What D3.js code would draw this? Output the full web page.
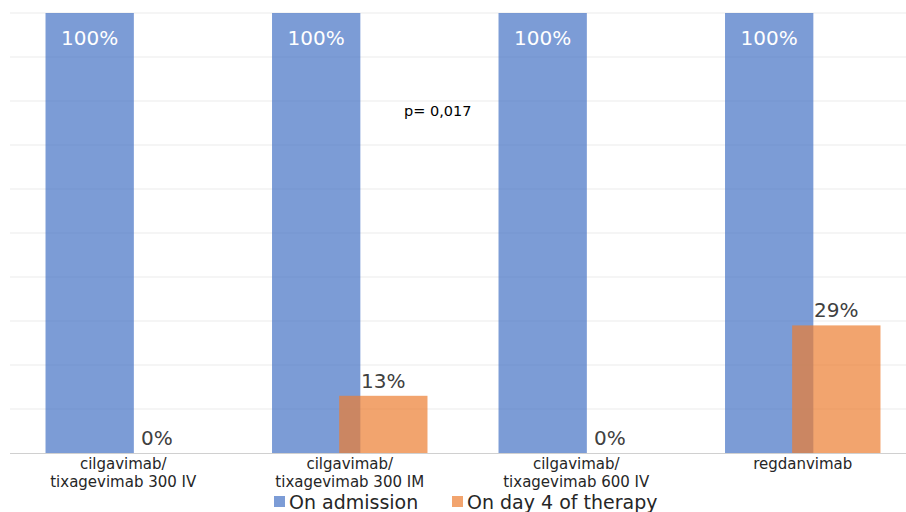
<!DOCTYPE html>
<html>
<head>
<meta charset="utf-8">
<script src="https://cdn.jsdelivr.net/npm/d3@7"></script>
<style>
  html, body { margin: 0; padding: 0; background: #fff; }
  svg { display: block; font-family: "DejaVu Sans", "Noto Sans", sans-serif; }
</style>
</head>
<body>
<svg id="chart" width="906" height="512"></svg>
<script>
// Treatment groups (two-line axis labels)
const categories = [
  ["cilgavimab/", "tixagevimab 300 IV"],
  ["cilgavimab/", "tixagevimab 300 IM"],
  ["cilgavimab/", "tixagevimab 600 IV"],
  ["regdanvimab"]
];
const seriesNames = ["On admission", "On day 4 of therapy"];
const onAdmission = [100, 100, 100, 100];
const onDay4 = [0, 13, 0, 29];
const yTicks = [0, 10, 20, 30, 40, 50, 60, 70, 80, 90, 100];
const annotation = "p= 0,017";

const svg = d3.select("#chart");
const margin = { left: 10, right: -10, top: 13, bottom: 59 };
const W = 906, H = 512;

const x = d3.scaleBand()
  .domain(d3.range(categories.length))
  .range([margin.left, W - margin.right])
  .paddingInner(0.0);

const y = d3.scaleLinear().domain([0, 100]).range([H - margin.bottom, margin.top]);

// bar geometry inside each band
const barW = x.bandwidth() * 0.39;
const overlap = barW * 0.24;
const groupW = barW * 2 - overlap;
const blueX = i => x(i) + (x.bandwidth() - groupW) / 2;
const orangeX = i => blueX(i) + barW - overlap;

const colors = ["rgba(68,114,196,0.7)", "rgba(237,125,49,0.7)"];

// horizontal gridlines
svg.append("g").selectAll("line")
  .data(yTicks.filter(d => d > 0))
  .join("line")
  .attr("x1", margin.left).attr("x2", W)
  .attr("y1", d => y(d)).attr("y2", d => y(d))
  .attr("stroke", "#ebebeb").attr("stroke-width", 1);

// bars
svg.append("g").selectAll("rect")
  .data(onAdmission)
  .join("rect")
  .attr("x", (d, i) => blueX(i))
  .attr("y", d => y(d))
  .attr("width", barW)
  .attr("height", d => y(0) - y(d))
  .attr("fill", colors[0]);

svg.append("g").selectAll("rect")
  .data(onDay4)
  .join("rect")
  .attr("x", (d, i) => orangeX(i))
  .attr("y", d => y(d))
  .attr("width", barW)
  .attr("height", d => y(0) - y(d))
  .attr("fill", colors[1]);

// baseline axis
const xAxis = d3.axisBottom(x).tickSize(0).tickFormat("");
const axisG = svg.append("g").attr("transform", `translate(0,${y(0)})`).call(xAxis);
axisG.select(".domain").attr("stroke", "#d0d0d0").attr("d", `M${margin.left},0.5H${W}`);

// category labels
const catG = svg.append("g");
categories.forEach((lines, i) => {
  const cx = x(i) + x.bandwidth() / 2;
  const t = catG.append("text")
    .attr("x", cx)
    .attr("y", y(0) + 16)
    .attr("text-anchor", "middle")
    .attr("font-size", 15)
    .attr("fill", "#262626");
  lines.forEach((ln, k) => {
    t.append("tspan").attr("x", cx).attr("dy", k === 0 ? 0 : 18).text(ln);
  });
});

// value labels
svg.append("g").selectAll("text")
  .data(onAdmission)
  .join("text")
  .attr("x", (d, i) => blueX(i) + barW / 2)
  .attr("y", d => y(d) + 32)
  .attr("text-anchor", "middle")
  .attr("font-size", 20)
  .attr("fill", "#ffffff")
  .text(d => d + "%");

svg.append("g").selectAll("text")
  .data(onDay4)
  .join("text")
  .attr("x", (d, i) => orangeX(i) + barW / 2)
  .attr("y", d => y(d) - 8)
  .attr("text-anchor", "middle")
  .attr("font-size", 20)
  .attr("fill", "#404040")
  .text(d => d + "%");

// p-value annotation
svg.append("text")
  .attr("x", 404).attr("y", 116)
  .attr("font-size", 14.5)
  .attr("fill", "#000")
  .text(annotation);

// legend
const legend = svg.append("g").attr("transform", `translate(0, ${H - 3})`);
const legendX = [274, 452];
seriesNames.forEach((name, i) => {
  legend.append("rect")
    .attr("x", legendX[i]).attr("y", -13)
    .attr("width", 11).attr("height", 11)
    .attr("fill", colors[i]);
  legend.append("text")
    .attr("x", legendX[i] + 15).attr("y", 0)
    .attr("font-size", 19)
    .attr("fill", "#262626")
    .text(name);
});
</script>
</body>
</html>
